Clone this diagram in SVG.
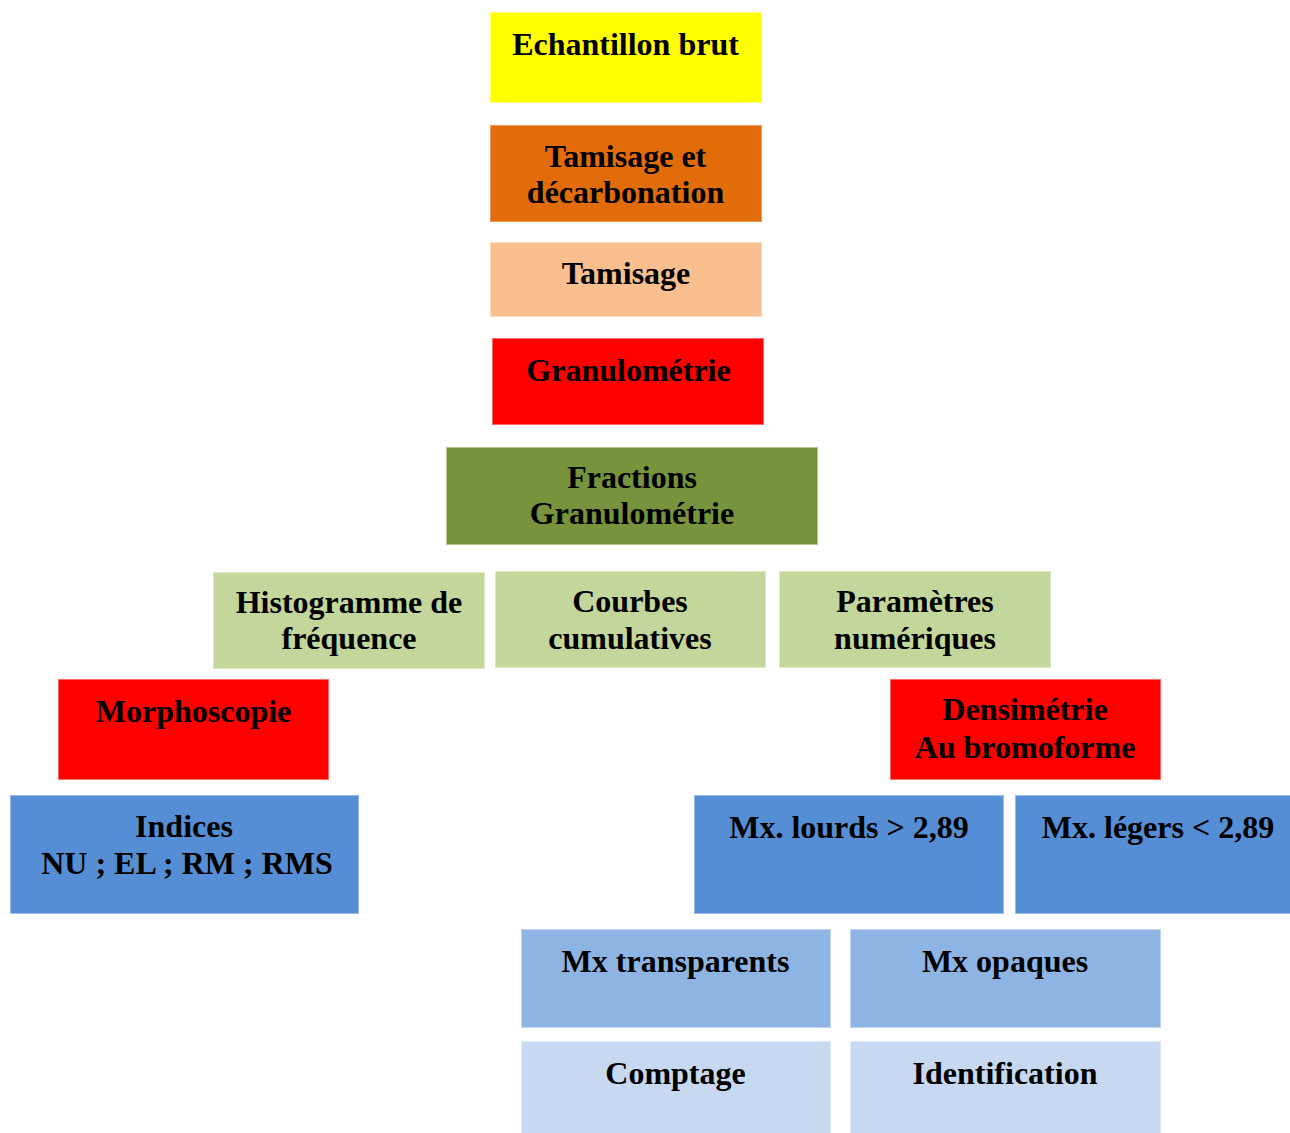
<svg xmlns="http://www.w3.org/2000/svg" width="1290" height="1133" viewBox="0 0 1290 1133">
<style>
text{font-family:"Liberation Serif","Times New Roman",serif;font-weight:bold;font-size:32px;fill:#000;text-anchor:middle}
.yel{fill:#FFFF00;stroke:#FFFF66;stroke-width:1}
.org{fill:#E36C0A;stroke:#EE9955;stroke-width:1}
.pch{fill:#F9BF8F;stroke:#FCD8B8;stroke-width:1}
.red{fill:#FF0000;stroke:#FF6666;stroke-width:1}
.grn{fill:#77933C;stroke:#B0C490;stroke-width:1}
.lgr{fill:#C3D69B;stroke:#DDE8C5;stroke-width:1}
.blu{fill:#558ED5;stroke:#99BBE6;stroke-width:1}
.lbl{fill:#8EB4E3;stroke:#C0D5F0;stroke-width:1}
.vlb{fill:#C6D9F1;stroke:#DDE8F6;stroke-width:1}
</style>
<rect width="1290" height="1133" fill="#fff"/>
<g id="connectors"></g>
<g id="n-echantillon"><rect class="yel" x="490.5" y="12.5" width="271" height="90"/><text x="625.5" y="55">Echantillon brut</text></g>
<g id="n-tamisage-decarb"><rect class="org" x="490.5" y="125.5" width="271" height="96"/><text x="625.5" y="167">Tamisage et</text><text x="625.5" y="203">décarbonation</text></g>
<g id="n-tamisage"><rect class="pch" x="490.5" y="242.5" width="271" height="74"/><text x="626" y="284">Tamisage</text></g>
<g id="n-granulometrie"><rect class="red" x="492.5" y="338.5" width="271" height="86"/><text x="628.5" y="381">Granulométrie</text></g>
<g id="n-fractions"><rect class="grn" x="446.5" y="447.5" width="371" height="97"/><text x="632" y="488">Fractions</text><text x="632" y="524">Granulométrie</text></g>
<g id="n-histogramme"><rect class="lgr" x="213.5" y="572.5" width="271" height="96"/><text x="349" y="613">Histogramme de</text><text x="349" y="649">fréquence</text></g>
<g id="n-courbes"><rect class="lgr" x="495.5" y="571.5" width="270" height="96"/><text x="630" y="612">Courbes</text><text x="630" y="649">cumulatives</text></g>
<g id="n-parametres"><rect class="lgr" x="779.5" y="571.5" width="271" height="96"/><text x="915" y="612">Paramètres</text><text x="915" y="649">numériques</text></g>
<g id="n-morphoscopie"><rect class="red" x="58.5" y="679.5" width="270" height="100"/><text x="193.5" y="722">Morphoscopie</text></g>
<g id="n-densimetrie"><rect class="red" x="890.5" y="679.5" width="270" height="100"/><text x="1025" y="720">Densimétrie</text><text x="1025" y="758">Au bromoforme</text></g>
<g id="n-indices"><rect class="blu" x="10.5" y="795.5" width="348" height="118"/><text x="184" y="837">Indices</text><text x="187" y="874">NU ; EL ; RM ; RMS</text></g>
<g id="n-lourds"><rect class="blu" x="694.5" y="795.5" width="309" height="118"/><text x="849" y="838">Mx. lourds &gt; 2,89</text></g>
<g id="n-legers"><rect class="blu" x="1015.5" y="795.5" width="290" height="118"/><text x="1158" y="838">Mx. légers &lt; 2,89</text></g>
<g id="n-transparents"><rect class="lbl" x="521.5" y="929.5" width="309" height="98"/><text x="675.5" y="972">Mx transparents</text></g>
<g id="n-opaques"><rect class="lbl" x="850.5" y="929.5" width="310" height="98"/><text x="1005" y="972">Mx opaques</text></g>
<g id="n-comptage"><rect class="vlb" x="521.5" y="1041.5" width="309" height="100"/><text x="675.5" y="1084">Comptage</text></g>
<g id="n-identification"><rect class="vlb" x="850.5" y="1041.5" width="310" height="100"/><text x="1005" y="1084">Identification</text></g>
</svg>
